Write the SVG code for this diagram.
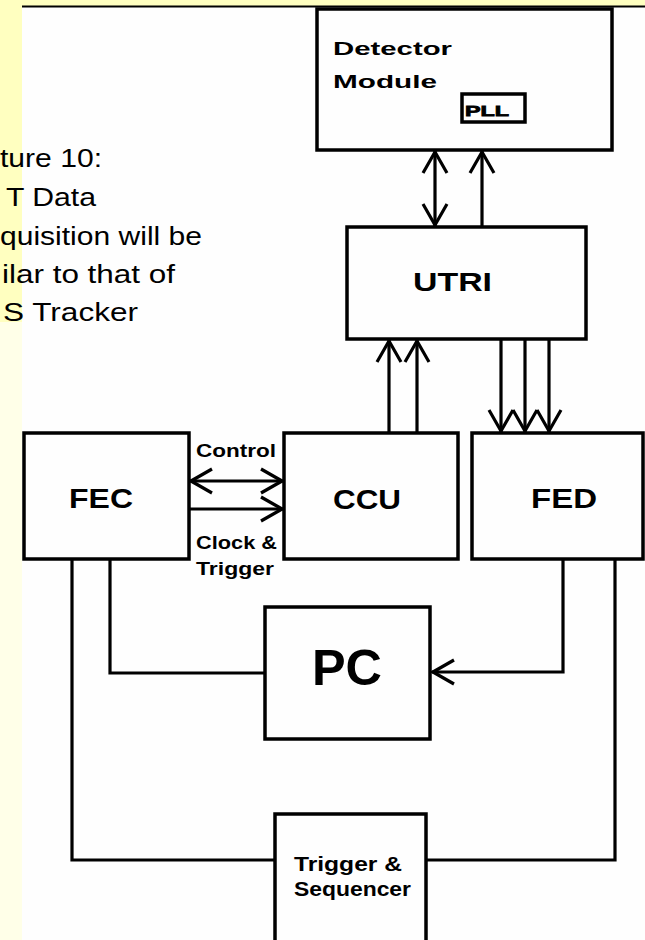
<svg xmlns="http://www.w3.org/2000/svg" width="645" height="940" viewBox="0 0 645 940">
  <style>
    .box { fill: none; stroke: #000; stroke-width: 3.5; }
    .wire { fill: none; stroke: #000; stroke-width: 3.2; }
    .lbl { font-family: "Liberation Sans", Arial, sans-serif; font-weight: bold; fill: #000; }
    .body { font-family: "Liberation Sans", Arial, sans-serif; font-size: 25px; fill: #000; }
  </style>
  <defs>
    <marker id="arr" viewBox="-26 -14 28 28" refX="0" refY="0" markerWidth="28" markerHeight="28" markerUnits="userSpaceOnUse" orient="auto-start-reverse">
      <path d="M-22,-12 L-1,0 L-22,12" fill="none" stroke="#000" stroke-width="3.2"/>
    </marker>
  </defs>

  <!-- background -->
  <rect x="0" y="0" width="645" height="940" fill="#FEFEFE"/>
  <rect x="0" y="0" width="645" height="6" fill="#FFFFC0"/>
  <rect x="0" y="0" width="22" height="322" fill="#FFFFC0"/>
  <rect x="0" y="322" width="22" height="618" fill="#FFFFE8"/>
  <line x1="22" y1="6.5" x2="645" y2="6.5" stroke="#000" stroke-width="2"/>

  <!-- caption text -->
  <g id="caption">
    <text class="body" x="0" y="167" textLength="102" lengthAdjust="spacingAndGlyphs">ture 10:</text>
    <text class="body" x="6" y="206" textLength="90" lengthAdjust="spacingAndGlyphs">T Data</text>
    <text class="body" x="0" y="245" textLength="202" lengthAdjust="spacingAndGlyphs">quisition will be</text>
    <text class="body" x="2" y="283" textLength="173" lengthAdjust="spacingAndGlyphs">ilar to that of</text>
    <text class="body" x="3" y="321" textLength="135" lengthAdjust="spacingAndGlyphs">S Tracker</text>
  </g>

  <!-- nodes -->
  <g id="detector">
    <rect class="box" x="317" y="9" width="295" height="141"/>
    <text class="lbl" x="333" y="55" font-size="18" textLength="119" lengthAdjust="spacingAndGlyphs">Detector</text>
    <text class="lbl" x="333" y="88" font-size="18" textLength="104" lengthAdjust="spacingAndGlyphs">Module</text>
  </g>
  <g id="pll">
    <rect class="box" x="462" y="94" width="63" height="28" stroke-width="3"/>
    <text class="lbl" x="465" y="116" font-size="15" textLength="44" lengthAdjust="spacingAndGlyphs" stroke="#000" stroke-width="0.8">PLL</text>
  </g>
  <g id="utri">
    <rect class="box" x="347" y="227" width="239" height="112"/>
    <text class="lbl" x="413" y="291" font-size="26" textLength="79" lengthAdjust="spacingAndGlyphs">UTRI</text>
  </g>
  <g id="fec">
    <rect class="box" x="24" y="433" width="165" height="126"/>
    <text class="lbl" x="69" y="508" font-size="28" textLength="64" lengthAdjust="spacingAndGlyphs">FEC</text>
  </g>
  <g id="ccu">
    <rect class="box" x="284" y="433" width="174" height="126"/>
    <text class="lbl" x="333" y="509" font-size="28" textLength="68" lengthAdjust="spacingAndGlyphs">CCU</text>
  </g>
  <g id="fed">
    <rect class="box" x="472" y="433" width="171" height="126"/>
    <text class="lbl" x="531" y="508" font-size="28" textLength="66" lengthAdjust="spacingAndGlyphs">FED</text>
  </g>
  <g id="pc">
    <rect class="box" x="265" y="607" width="165" height="132"/>
    <text class="lbl" x="312" y="685" font-size="50" textLength="70" lengthAdjust="spacingAndGlyphs">PC</text>
  </g>
  <g id="trigger">
    <rect class="box" x="275" y="814" width="151" height="140"/>
    <text class="lbl" x="294" y="871" font-size="20" textLength="108" lengthAdjust="spacingAndGlyphs">Trigger &amp;</text>
    <text class="lbl" x="294" y="896" font-size="20" textLength="117" lengthAdjust="spacingAndGlyphs">Sequencer</text>
  </g>

  <!-- connectors -->
  <g id="connectors">
    <line class="wire" x1="435" y1="151" x2="435" y2="226" marker-start="url(#arr)" marker-end="url(#arr)"/>
    <line class="wire" x1="482" y1="226" x2="482" y2="151" marker-end="url(#arr)"/>
    <line class="wire" x1="389" y1="432" x2="389" y2="340" marker-end="url(#arr)"/>
    <line class="wire" x1="417" y1="432" x2="417" y2="340" marker-end="url(#arr)"/>
    <line class="wire" x1="501" y1="340" x2="501" y2="432" marker-end="url(#arr)"/>
    <line class="wire" x1="525" y1="340" x2="525" y2="432" marker-end="url(#arr)"/>
    <line class="wire" x1="549" y1="340" x2="549" y2="432" marker-end="url(#arr)"/>
    <line class="wire" x1="190" y1="481" x2="283" y2="481" marker-start="url(#arr)" marker-end="url(#arr)"/>
    <line class="wire" x1="190" y1="509" x2="283" y2="509" marker-end="url(#arr)"/>
    <polyline class="wire" points="563,560 563,672 432,672" marker-end="url(#arr)"/>
    <polyline class="wire" points="110,560 110,673 265,673"/>
    <polyline class="wire" points="72,560 72,860 275,860"/>
    <polyline class="wire" points="615,560 615,860 426,860"/>
    <text class="lbl" x="196" y="457" font-size="19" textLength="80" lengthAdjust="spacingAndGlyphs">Control</text>
    <text class="lbl" x="196" y="549" font-size="19" textLength="81" lengthAdjust="spacingAndGlyphs">Clock &amp;</text>
    <text class="lbl" x="196" y="575" font-size="19" textLength="78" lengthAdjust="spacingAndGlyphs">Trigger</text>
  </g>
</svg>
